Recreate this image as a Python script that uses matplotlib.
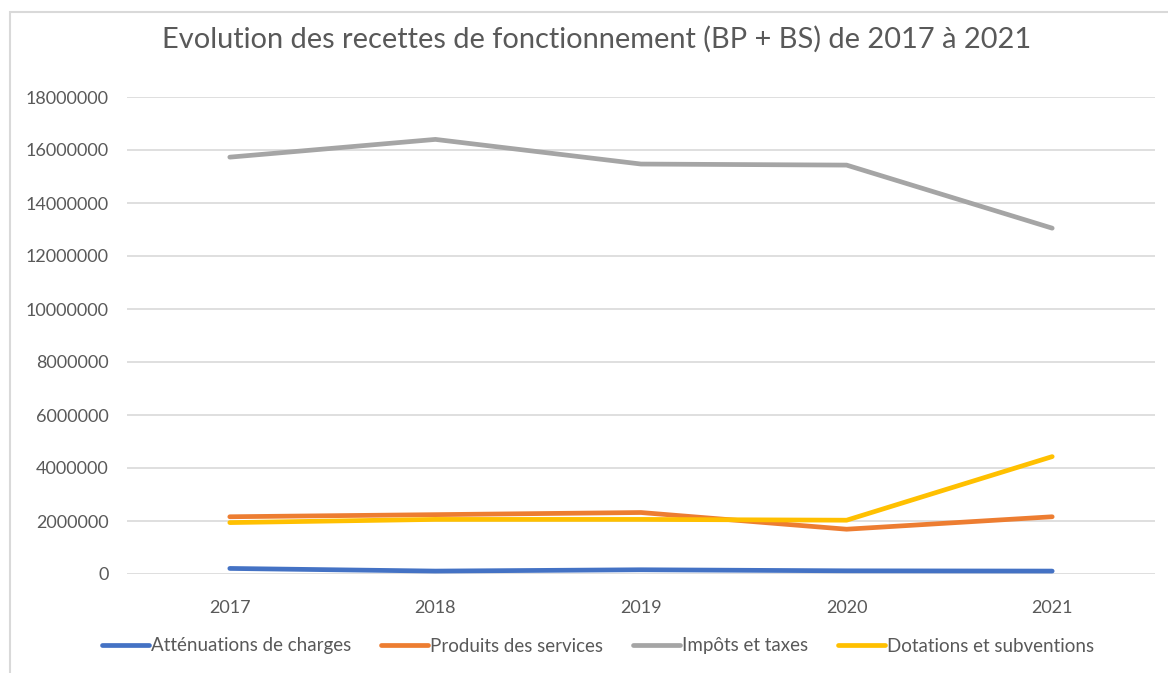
import matplotlib.pyplot as plt
from matplotlib.patches import Rectangle

annees = ["2017", "2018", "2019", "2020", "2021"]
attenuations = [210000, 110000, 160000, 120000, 110000]
produits = [2160000, 2240000, 2320000, 1690000, 2160000]
impots = [15730000, 16400000, 15470000, 15430000, 13050000]
dotations = [1940000, 2060000, 2060000, 2030000, 4430000]

series = [
    ("Atténuations de charges", attenuations, "#4472C4"),
    ("Produits des services", produits, "#ED7D31"),
    ("Impôts et taxes", impots, "#A5A5A5"),
    ("Dotations et subventions", dotations, "#FFC000"),
]

plt.rcParams['font.family'] = ['Lato', 'DejaVu Sans']
gris_texte = "#595959"

fig = plt.figure(figsize=(11.68, 6.73), dpi=100)
fig.patches.append(Rectangle((10 / 1168, -0.1), 1.2, 1 - 12 / 673 + 0.1, transform=fig.transFigure,
                             fill=False, edgecolor="#D9D9D9", linewidth=1.5))

ax = fig.add_axes([127 / 1168, 1 - 574 / 673, 1028 / 1168, 477 / 673])
x = range(len(annees))
for nom, valeurs, couleur in series:
    ax.plot(x, valeurs, color=couleur, linewidth=3.4, label=nom, solid_capstyle='round')

ax.set_xlim(-0.5, len(annees) - 0.5)
ax.set_ylim(0, 18000000)
ax.set_yticks(range(0, 18000001, 2000000))
ax.set_yticklabels([str(v) for v in range(0, 18000001, 2000000)])
ax.set_xticks(list(x))
ax.set_xticklabels(annees)
ax.grid(axis='y', color="#D9D9D9", linewidth=1.2)
ax.set_axisbelow(True)
for s in ax.spines.values():
    s.set_visible(False)
ax.tick_params(length=0, colors=gris_texte, labelsize=13)
ax.tick_params(axis='y', pad=13)
ax.tick_params(axis='x', pad=19)

fig.text(0.511, 1 - 48 / 673, "Evolution des recettes de fonctionnement (BP + BS) de 2017 à 2021",
         ha='center', va='baseline', fontsize=20.9, color=gris_texte)

fig.legend(loc='center', bbox_to_anchor=(0.512, 1 - 646 / 673), ncol=4, frameon=False,
           fontsize=13.5, labelcolor=gris_texte, handlelength=2.5, handletextpad=0.1,
           columnspacing=1.6)

plt.savefig("out.png", dpi=100)
